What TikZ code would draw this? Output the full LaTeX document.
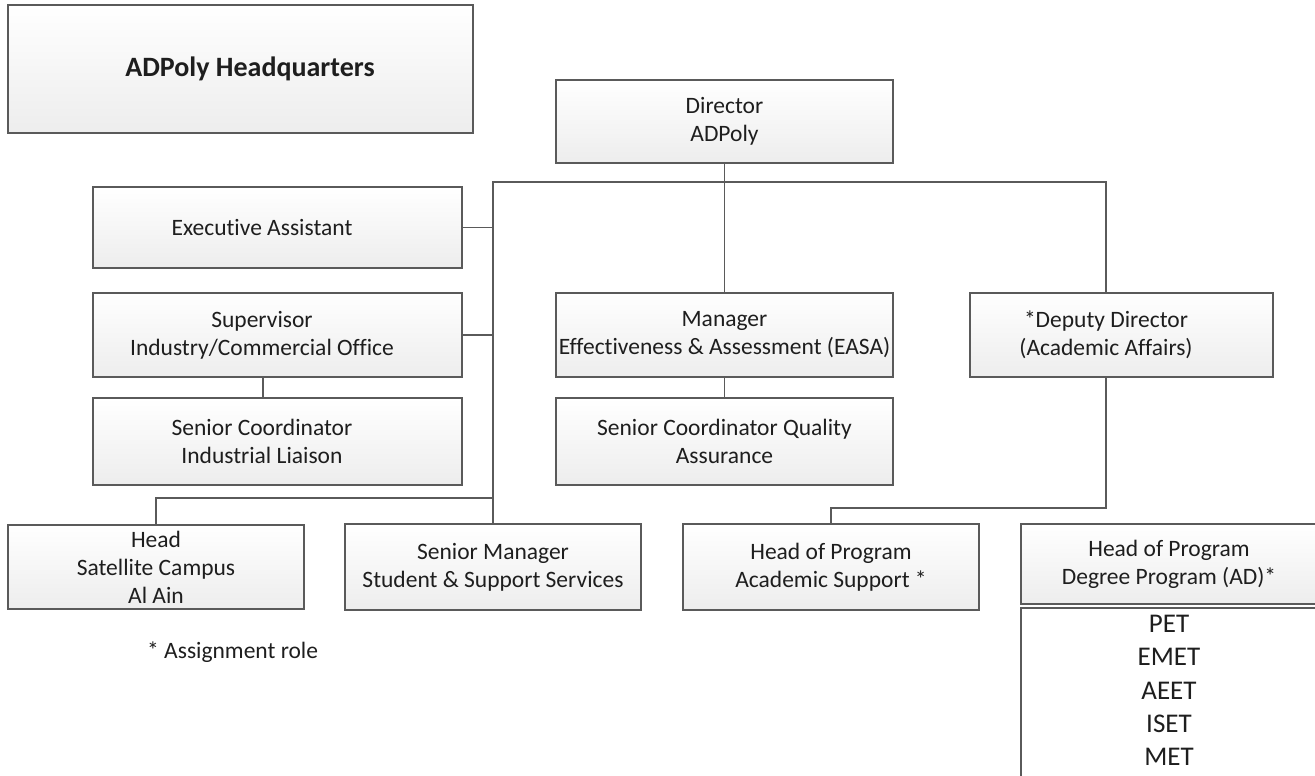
\documentclass[tikz,border=0pt]{standalone}
\usepackage{fontspec}
\setmainfont{Carlito}[Ligatures=NoCommon, RawFeature={-liga;-clig;-calt}]
\newcommand{\nolig}{\kern0pt\relax}
\definecolor{linec}{HTML}{5A5A5A}
\definecolor{boxbot}{HTML}{EDEDED}
\definecolor{shadowc}{HTML}{D4D4D4}
\definecolor{textc}{HTML}{1E1E1E}
\tikzset{
  box/.style={draw=linec, line width=1.6pt, top color=white, bottom color=boxbot,
    align=center, inner sep=0pt, text=textc, font=\fontsize{23.5}{28}\selectfont},
  plain/.style={align=center, inner sep=0pt, text=textc, font=\fontsize{23.5}{28}\selectfont},
  conn/.style={draw=linec, line width=1.6pt},
  shade line/.style={draw=shadowc, line width=1.6pt},
}
\begin{document}
\begin{tikzpicture}[x=1pt,y=-1pt]
\path[use as bounding box] (0,0) rectangle (1315,776);
\clip (0,0) rectangle (1315,776);

% boxes
\node[box, minimum width=465pt, minimum height=128pt] (hq) at (240.5,69) {};
\node[plain, font=\bfseries\fontsize{28}{34}\selectfont] (hqtext) at (250,69) {ADPoly Headquarters};
\node[box, minimum width=337pt, minimum height=83pt] (dir) at (724.5,121.5) {Director\\ADPoly};
\node[box, minimum width=369pt, minimum height=81pt] (exec) at (277.5,227.5) {};
\node[plain] (exectext) at (262,227.5) {Execut\nolig ive Assistant};
\node[box, minimum width=369pt, minimum height=84pt] (sup) at (277.5,335) {};
\node[plain] (suptext) at (262,335) {Supervisor\\Industry/Commercial Office};
\node[box, minimum width=369pt, minimum height=87pt] (sci) at (277.5,441.5) {};
\node[plain] (scitext) at (262,441.5) {Senior Coordinator\\Industrial Liaison};
\node[box, minimum width=296pt, minimum height=84pt] (sat) at (156,567) {Head\\Satellite Campus\\Al Ain};
\node[box, minimum width=296pt, minimum height=86pt] (ssm) at (493,567) {Senior Manager\\Student \& Support Services};
\node[box, minimum width=337pt, minimum height=84pt] (mgr) at (724.5,335) {Manager\\Effect\nolig iveness \& Assessment (EASA)};
\node[box, minimum width=337pt, minimum height=87pt] (sqa) at (724.5,441.5) {Senior Coordinator Quality\\Assurance};
\node[box, minimum width=303pt, minimum height=84pt] (dep) at (1121.5,335) {};
\node[plain] (deptext) at (1106,335) {*Deputy Director\\(Academic Affairs)};
\node[box, minimum width=296pt, minimum height=86pt] (has) at (831,567) {Head of Program\\Academic Support *};
\node[box, minimum width=296pt, minimum height=80pt] (hdp) at (1169,564) {Head of Program\\Degree Program (AD)*};
\node[draw=linec, line width=1.6pt, fill=white, minimum width=296pt, minimum height=184pt, inner sep=0pt] (lst) at (1169,700) {};
\node[align=center, inner sep=0pt, text=textc, font=\fontsize{27}{33.3}\selectfont] (lsttext) at (1169,690.5) {PET\\EMET\\AEET\\ISET\\MET};
\node[anchor=west, inner sep=0pt, text=textc, font=\fontsize{23.5}{28}\selectfont] (note) at (147,652) {* Assignment role};

% junction coordinates
\coordinate (jl) at (493,182);
\coordinate (jr) at (1106,182);
\coordinate (sx) at (263,0);
\coordinate (hb) at (157,498);
\coordinate (db) at (1106,508);

% connectors
\draw[conn] (dir.south) -- (mgr.north);
\draw[conn] (ssm.north) -- (jl) -- (jr) -- (jr |- dep.north);
\draw[conn] (exec.east) -- (exec.east -| jl);
\draw[conn] (sup.east) -- (sup.east -| jl);
\draw[conn] (sx |- sup.south) -- (sx |- sci.north);
\draw[conn] (sat.north) -- (sat.north |- hb) -- (hb -| jl);
\draw[conn] (mgr.south) -- (sqa.north);
\draw[shade line, xshift=3pt, yshift=-4pt] (jr |- dep.south) -- (db) -- (db -| has.north) -- ([yshift=4pt]has.north);
\draw[conn] (jr |- dep.south) -- (db) -- (db -| has.north) -- (has.north);
\end{tikzpicture}
\end{document}
